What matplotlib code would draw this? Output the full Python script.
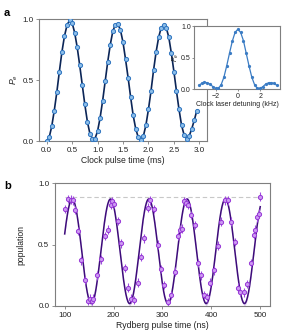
import numpy as np
import matplotlib
matplotlib.use("Agg")
import matplotlib.pyplot as plt

plt.rcParams['font.family'] = ['Liberation Sans', 'DejaVu Sans']
plt.rcParams['mathtext.fontset'] = 'custom'
plt.rcParams['mathtext.rm'] = 'Liberation Sans'
plt.rcParams['mathtext.it'] = 'Liberation Sans:italic'

# ---- panel a: clock Rabi oscillation ----
clock_t = [0.00, 0.05, 0.10, 0.15, 0.20, 0.25, 0.30, 0.35, 0.40, 0.45,
           0.50, 0.55, 0.60, 0.65, 0.70, 0.75, 0.80, 0.85, 0.90, 0.95,
           1.00, 1.05, 1.10, 1.15, 1.20, 1.25, 1.30, 1.35, 1.40, 1.45,
           1.50, 1.55, 1.60, 1.65, 1.70, 1.75, 1.80, 1.85, 1.90, 1.95,
           2.00, 2.05, 2.10, 2.15, 2.20, 2.25, 2.30, 2.35, 2.40, 2.45,
           2.50, 2.55, 2.60, 2.65, 2.70, 2.75, 2.80, 2.85, 2.90, 2.95]
clock_pe = [0.00, 0.03, 0.12, 0.25, 0.40, 0.57, 0.73, 0.86, 0.95, 0.99,
            0.97, 0.89, 0.77, 0.62, 0.46, 0.30, 0.16, 0.06, 0.02, 0.02,
            0.08, 0.19, 0.33, 0.49, 0.65, 0.79, 0.90, 0.955, 0.96, 0.91,
            0.81, 0.67, 0.52, 0.36, 0.21, 0.10, 0.03, 0.01, 0.04, 0.13,
            0.26, 0.41, 0.58, 0.73, 0.85, 0.93, 0.95, 0.93, 0.85, 0.72,
            0.57, 0.41, 0.26, 0.13, 0.05, 0.02, 0.04, 0.10, 0.17, 0.25]

# inset: clock line shape
det_khz = [-3.5, -3.25, -3.0, -2.75, -2.5, -2.25, -2.0, -1.75, -1.5, -1.25,
           -1.0, -0.75, -0.5, -0.25, 0.0, 0.25, 0.5, 0.75, 1.0, 1.25,
           1.5, 1.75, 2.0, 2.25, 2.5, 2.75, 3.0, 3.25, 3.5]
det_pe = [0.06, 0.09, 0.11, 0.10, 0.08, 0.04, 0.01, 0.01, 0.07, 0.19,
          0.37, 0.57, 0.76, 0.90, 0.95, 0.90, 0.77, 0.57, 0.37, 0.19,
          0.07, 0.01, 0.01, 0.04, 0.08, 0.10, 0.10, 0.09, 0.06]

# ---- panel b: Rydberg Rabi oscillation ----
ryd_t = [100, 107, 112, 117, 122, 127, 134, 141, 148, 152, 155, 158,
         167, 175, 182, 188, 194, 197, 200, 209, 216, 223, 229, 236,
         242, 249, 256, 263, 270, 275, 283, 290, 297, 304, 311, 318,
         325, 331, 336, 340, 345, 348, 352, 359, 366, 372, 379, 386,
         391, 398, 406, 413, 420, 427, 434, 441, 448, 454, 459, 466,
         473, 482, 487, 490, 494, 497, 500]
ryd_pop = [0.79, 0.87, 0.865, 0.86, 0.78, 0.61, 0.37, 0.21, 0.04, 0.06, 0.04, 0.06,
           0.25, 0.38, 0.57, 0.62, 0.82, 0.85, 0.83, 0.69, 0.51, 0.31, 0.15, 0.06,
           0.05, 0.19, 0.40, 0.55, 0.80, 0.86, 0.79, 0.50, 0.30, 0.17, 0.03, 0.09,
           0.28, 0.57, 0.62, 0.63, 0.85, 0.84, 0.82, 0.74, 0.66, 0.35, 0.25, 0.09,
           0.07, 0.19, 0.29, 0.49, 0.685, 0.86, 0.86, 0.685, 0.52, 0.15, 0.115, 0.11,
           0.18, 0.35, 0.58, 0.62, 0.72, 0.75, 0.89]
ryd_err = 0.035

# fitted Rabi model for panel b
fit_period = 78.3    # ns
fit_tmin = 154.5     # ns, first minimum
fit_amp = 0.85
fit_offset = 0.02
fit_band = 0.015
max_pop = 0.89

grey = '#7f7f7f'
txt = '#222222'


def style_axes(ax, tick_fs):
    for s in ax.spines.values():
        s.set_color(grey)
        s.set_linewidth(0.8)
    ax.tick_params(direction='out', length=2, width=0.6, color=grey,
                   labelsize=tick_fs, labelcolor=txt, pad=2)


fig = plt.figure(figsize=(3.0, 3.35), dpi=100)

# panel a
ax = fig.add_axes([0.13, 0.579, 0.56, 0.364])
ax.plot(clock_t, clock_pe, color='#0b2557', lw=1.2, zorder=2)
ax.plot(clock_t, clock_pe, 'o', ms=3.0, mfc='#8cbde8', mec='#2f75c0', mew=0.7, zorder=3)
ax.set_xlim(-0.15, 3.15)
ax.set_ylim(0, 1.0)
ax.set_xticks([0, 0.5, 1.0, 1.5, 2.0, 2.5, 3.0])
ax.set_xticklabels(['0.0', '0.5', '1.0', '1.5', '2.0', '2.5', '3.0'])
ax.set_yticks([0, 0.5, 1.0])
ax.set_yticklabels(['0.0', '0.5', '1.0'])
style_axes(ax, 5.8)
ax.set_xlabel('Clock pulse time (ms)', fontsize=6.2, color=txt, labelpad=2)
ax.set_ylabel(r'$P_e$', fontsize=6.2, color=txt, labelpad=2)

# inset
axi = fig.add_axes([0.648, 0.734, 0.286, 0.188])
axi.plot(det_khz, det_pe, color='#3b7cc4', lw=0.9, zorder=2)
axi.plot(det_khz, det_pe, 'o', ms=1.3, color='#3b7cc4', zorder=3)
axi.set_xlim(-3.9, 3.8)
axi.set_ylim(0, 1.0)
axi.set_xticks([-2, 0, 2])
axi.set_yticks([0, 0.5, 1.0])
axi.set_yticklabels(['0.0', '0.5', '1.0'])
style_axes(axi, 5.0)
axi.tick_params(length=1.5, pad=1)
axi.set_xlabel('Clock laser detuning (kHz)', fontsize=5.0, color=txt, labelpad=1)
axi.set_ylabel(r'$P_e$', fontsize=5.0, color=txt, labelpad=0)

# panel b
bx = fig.add_axes([0.183, 0.0866, 0.717, 0.367])
tfit = np.linspace(100, 500, 400)
pfit = fit_offset + fit_amp * (1 - np.cos(2 * np.pi * (tfit - fit_tmin) / fit_period)) / 2
bx.fill_between(tfit, pfit - fit_band, pfit + fit_band, color='#dccbee', lw=0, zorder=1)
bx.plot(tfit, pfit, color='#3d0b7a', lw=1.1, zorder=2)
bx.hlines(max_pop, 100, 500, colors='#c8c8c8', linestyles=(0, (4, 2.5)), lw=0.8, zorder=0)
bx.errorbar(ryd_t, ryd_pop, yerr=ryd_err, fmt='o', ms=3.0, mfc='#cc99f2', mec='#9636d6',
            mew=0.7, ecolor='#a04ae0', elinewidth=0.8, capsize=0, zorder=3)
bx.set_xlim(80, 520)
bx.set_ylim(0, 1.0)
bx.set_xticks([100, 200, 300, 400, 500])
bx.set_yticks([0, 0.5, 1.0])
bx.set_yticklabels(['0.0', '0.5', '1.0'])
style_axes(bx, 5.8)
bx.set_xlabel('Rydberg pulse time (ns)', fontsize=6.2, color=txt, labelpad=2)
bx.set_ylabel('population', fontsize=6.2, color=txt, labelpad=9)

fig.text(0.013, 0.962, 'a', fontsize=8, fontweight='bold', va='center')
fig.text(0.013, 0.445, 'b', fontsize=8, fontweight='bold', va='center')

fig.savefig('out.png', dpi=100)
